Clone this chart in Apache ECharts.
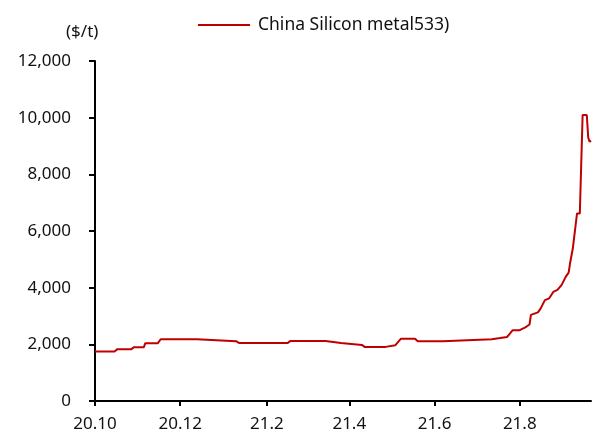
<!DOCTYPE html>
<html>
<head>
<meta charset="utf-8">
<script src="https://cdn.jsdelivr.net/npm/echarts@6/dist/echarts.min.js"></script>
<style>
html,body{margin:0;padding:0;background:#fff;}
#chart{width:609px;height:446px;}
</style>
</head>
<body>
<div id="chart"></div>
<script>
// ---- data ----
const seriesName = 'China Silicon metal533)';
const unitLabel = '($/t)';
const dates = [
  '2020-10-01','2020-10-15','2020-10-17','2020-10-27','2020-10-29','2020-11-05','2020-11-06',
  '2020-11-15','2020-11-17','2020-12-13','2020-12-14','2021-01-10','2021-01-12','2021-02-16',
  '2021-02-18','2021-03-15','2021-03-16','2021-03-26','2021-03-27','2021-04-10','2021-04-12',
  '2021-04-27','2021-04-28','2021-05-04','2021-05-05','2021-05-08','2021-05-18','2021-05-20',
  '2021-06-07','2021-06-08','2021-07-12','2021-07-13','2021-07-18','2021-07-19','2021-07-23',
  '2021-07-27','2021-08-01','2021-08-05','2021-08-08','2021-08-09','2021-08-14','2021-08-16',
  '2021-08-19','2021-08-22','2021-08-25','2021-08-28','2021-08-31','2021-09-03','2021-09-05',
  '2021-09-06','2021-09-08','2021-09-11','2021-09-13','2021-09-15','2021-09-18','2021-09-19',
  '2021-09-20','2021-09-21'
];
const prices = [
  1750,1750,1830,1830,1900,1900,2040,
  2040,2180,2180,2110,2110,2050,2050,
  2120,2120,2050,2050,1980,1980,1910,
  1910,1970,1970,2030,2200,2200,2110,
  2110,2180,2180,2220,2220,2260,2260,
  2500,2500,2600,2700,3040,3130,3270,
  3560,3620,3850,3920,4100,4390,4530,
  4860,5390,6620,6620,10090,10090,9300,
  9150,9190
];
const tickDates = ['2020-10-01','2020-12-01','2021-02-01','2021-04-01','2021-06-01','2021-08-01'];
const tickLabels = ['20.10','20.12','21.2','21.4','21.6','21.8'];
const axisStart = '2020-10-01';
const axisEnd = '2021-09-21';
const yTicks = [0, 2000, 4000, 6000, 8000, 10000, 12000];

// ---- helpers: dates -> day number since axis start ----
function dayNum(s){
  const p = s.split('-').map(Number);
  const q = axisStart.split('-').map(Number);
  return Math.round((Date.UTC(p[0], p[1]-1, p[2]) - Date.UTC(q[0], q[1]-1, q[2])) / 86400000);
}
const tickDays = tickDates.map(dayNum);
const points = dates.map((d,i)=>[dayNum(d), prices[i]]);
const FONT = '"Noto Sans", "Open Sans", sans-serif';
const TXT = '#111';

const chart = echarts.init(document.getElementById('chart'), null, {renderer:'canvas'});
chart.setOption({
  animation:false,
  backgroundColor:'#fff',
  textStyle:{fontFamily:FONT},
  grid:{left:95, right:18, top:61, bottom:45, containLabel:false},
  legend:{
    left:193, top:11,
    icon:'rect', itemWidth:52, itemHeight:2,
    textStyle:{fontFamily:FONT, fontSize:17.5, color:TXT, padding:[0,0,0,3]},
    data:[seriesName]
  },
  graphic:[{
    type:'text', left:66, top:24,
    style:{text:unitLabel, fontFamily:FONT, fontSize:17, fill:TXT}
  }],
  xAxis:{
    type:'value',
    min:0, max:dayNum(axisEnd),
    axisLine:{show:true, onZero:false, lineStyle:{color:'#000', width:2}},
    axisTick:{show:true, length:5, inside:false, customValues:tickDays, lineStyle:{color:'#000', width:2}},
    axisLabel:{
      customValues:tickDays,
      fontFamily:FONT, fontSize:17, color:TXT, margin:15,
      formatter:function(v){ const i = tickDays.indexOf(v); return i>=0 ? tickLabels[i] : ''; }
    },
    splitLine:{show:false}
  },
  yAxis:{
    type:'value', min:yTicks[0], max:yTicks[yTicks.length-1], interval:2000,
    axisLine:{show:true, lineStyle:{color:'#000', width:2}},
    axisTick:{show:true, length:6, inside:false, lineStyle:{color:'#000', width:2}},
    axisLabel:{
      fontFamily:FONT, fontSize:17, color:TXT, margin:24,
      formatter:function(v){ return v.toLocaleString('en-US'); }
    },
    splitLine:{show:false}
  },
  series:[{
    name:seriesName,
    type:'line',
    data:points,
    symbol:'none',
    lineStyle:{color:'#c00000', width:2},
    itemStyle:{color:'#c00000'}
  }]
});
</script>
</body>
</html>
